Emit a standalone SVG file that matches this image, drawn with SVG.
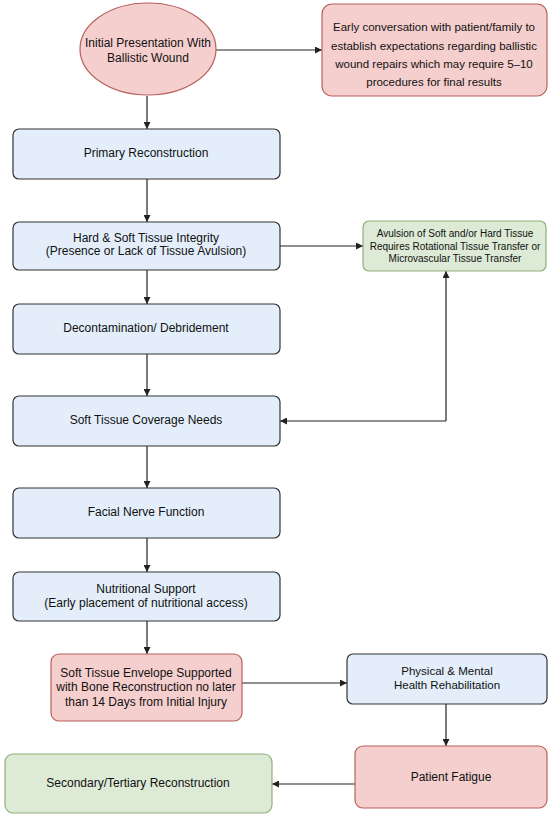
<svg xmlns="http://www.w3.org/2000/svg" width="550" height="818" viewBox="0 0 550 818">
<defs>
<style>
text{font-family:"Liberation Sans",Arial,sans-serif;font-size:12px;fill:#111;text-anchor:middle}
.sm{font-size:10px}
.md{font-size:11.5px}
.blue{fill:#e3eefa;stroke:#333;stroke-width:1.2}
.pink{fill:#f5cfcd;stroke:#b8605c;stroke-width:1.2}
.green{fill:#dcead6;stroke:#8fb07a;stroke-width:1.2}
.c{fill:none;stroke:#222;stroke-width:1.2}
</style>
<marker id="ah" viewBox="0 0 10 10" refX="10" refY="5" markerWidth="7" markerHeight="7" orient="auto" markerUnits="userSpaceOnUse">
<path d="M0,0 L10,5 L0,10 z" fill="#222"/>
</marker>
</defs>
<rect width="550" height="818" fill="#fff"/>
<g id="connectors">
<path class="c" d="M216,50 H322" marker-end="url(#ah)"/>
<path class="c" d="M147,96 V129" marker-end="url(#ah)"/>
<path class="c" d="M147,179 V222" marker-end="url(#ah)"/>
<path class="c" d="M280,246 H363" marker-end="url(#ah)"/>
<path class="c" d="M147,270 V304" marker-end="url(#ah)"/>
<path class="c" d="M147,354 V396" marker-end="url(#ah)"/>
<path class="c" d="M446,421 H280" marker-end="url(#ah)"/>
<path class="c" d="M446,421 V271" marker-end="url(#ah)"/>
<path class="c" d="M147,446 V488" marker-end="url(#ah)"/>
<path class="c" d="M147,538 V572" marker-end="url(#ah)"/>
<path class="c" d="M147,621 V654" marker-end="url(#ah)"/>
<path class="c" d="M242,683 H347" marker-end="url(#ah)"/>
<path class="c" d="M446,704 V746" marker-end="url(#ah)"/>
<path class="c" d="M355,784 H272" marker-end="url(#ah)"/>
</g>
<g id="initial">
<ellipse class="pink" cx="148" cy="49" rx="68" ry="46"/>
<text x="148" y="47">Initial Presentation With</text>
<text x="148" y="62">Ballistic Wound</text>
</g>
<g id="conversation">
<rect class="pink" x="322" y="4" width="225" height="92" rx="10"/>
<text class="md" x="434" y="31">Early conversation with patient/family to</text>
<text class="md" x="434" y="50">establish expectations regarding ballistic</text>
<text class="md" x="434" y="68">wound repairs which may require 5–10</text>
<text class="md" x="434" y="86">procedures for final results</text>
</g>
<g id="primary">
<rect class="blue" x="13" y="129" width="267" height="50" rx="6"/>
<text x="146" y="157">Primary Reconstruction</text>
</g>
<g id="integrity">
<rect class="blue" x="13" y="222" width="267" height="48" rx="6"/>
<text x="146" y="242">Hard &amp; Soft Tissue Integrity</text>
<text x="146" y="255">(Presence or Lack of Tissue Avulsion)</text>
</g>
<g id="avulsion">
<rect class="green" x="363" y="221" width="183" height="50" rx="6"/>
<text class="sm" x="455" y="237">Avulsion of Soft and/or Hard Tissue</text>
<text class="sm" x="455" y="250">Requires Rotational Tissue Transfer or</text>
<text class="sm" x="455" y="262">Microvascular Tissue Transfer</text>
</g>
<g id="decon">
<rect class="blue" x="13" y="304" width="267" height="50" rx="6"/>
<text x="146" y="332">Decontamination/ Debridement</text>
</g>
<g id="coverage">
<rect class="blue" x="13" y="396" width="267" height="50" rx="6"/>
<text x="146" y="424">Soft Tissue Coverage Needs</text>
</g>
<g id="facial">
<rect class="blue" x="13" y="488" width="267" height="50" rx="6"/>
<text x="146" y="516">Facial Nerve Function</text>
</g>
<g id="nutrition">
<rect class="blue" x="13" y="572" width="267" height="49" rx="6"/>
<text x="146" y="593">Nutritional Support</text>
<text x="146" y="607">(Early placement of nutritional access)</text>
</g>
<g id="envelope">
<rect class="pink" x="51" y="654" width="191" height="67" rx="8"/>
<text x="146" y="677">Soft Tissue Envelope Supported</text>
<text x="146" y="691">with Bone Reconstruction no later</text>
<text x="146" y="706">than 14 Days from Initial Injury</text>
</g>
<g id="rehab">
<rect class="blue" x="347" y="654" width="200" height="50" rx="6"/>
<text class="md" x="447" y="675">Physical &amp; Mental</text>
<text class="md" x="447" y="688.5">Health Rehabilitation</text>
</g>
<g id="fatigue">
<rect class="pink" x="355" y="746" width="192" height="62" rx="8"/>
<text x="451" y="781">Patient Fatigue</text>
</g>
<g id="secondary">
<rect class="green" x="5" y="754" width="267" height="59" rx="8"/>
<text x="138" y="787">Secondary/Tertiary Reconstruction</text>
</g>
</svg>
